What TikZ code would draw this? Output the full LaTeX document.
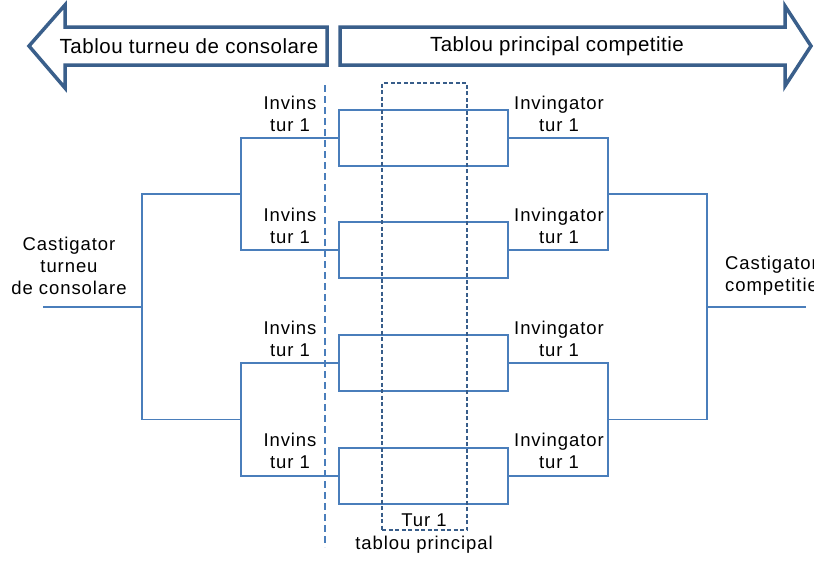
\documentclass[tikz,border=0pt]{standalone}
\usepackage{fontspec}
\setmainfont{Liberation Sans}
\newfontfamily\lblfont[LetterSpace=5]{Liberation Sans}
\newfontfamily\hdrfont[LetterSpace=2.5]{Liberation Sans}
\definecolor{lineblue}{HTML}{4A7EBB}
\definecolor{arrowblue}{HTML}{3A5F8B}
\definecolor{dashblue}{HTML}{385D8A}
\begin{document}
\begin{tikzpicture}[x=1pt,y=-1pt,
  conn/.style={draw=lineblue, line width=1.5pt},
  box/.style={draw=lineblue, line width=1.5pt, minimum width=169pt, minimum height=56pt, inner sep=0pt},
  lbl/.style={font=\lblfont\fontsize{18.5}{22}\selectfont, align=center, inner sep=0pt},
  hdr/.style={font=\hdrfont\fontsize{20.5}{24}\selectfont, inner sep=0pt},
  bigarrow/.style={draw=arrowblue, line width=3.5pt, fill=white, line join=miter},
]
\clip (0,0) rectangle (814,560);
\fill[white] (0,0) rectangle (814,560);

% header arrows
\draw[bigarrow] (29,46) -- (65,5) -- (65,27) -- (327,27) -- (327,65) -- (65,65) -- (65,88) -- cycle;
\draw[bigarrow] (340,27) -- (785,27) -- (785,6) -- (811,46) -- (785,86) -- (785,65) -- (340,65) -- cycle;
\node[hdr] (hcons) at (189,46) {Tablou turneu de consolare};
\node[hdr] (hmain) at (557,46) {Tablou principal competitie};

% boxes
\node[box] (b1) at (423.5,138) {};
\node[box] (b2) at (423.5,250) {};
\node[box] (b3) at (423.5,363) {};
\node[box] (b4) at (423.5,476) {};

% dashed round-1 frame
\node[draw=dashblue, line width=1.2pt, dash pattern=on 4pt off 2.5pt, minimum width=85pt, minimum height=447pt, inner sep=0pt] (tur) at (424.5,306.5) {};
\node[lbl] (turlbl) at (424,520) {Tur 1};
\node[lbl] (turlbl2) at (424,545) {tablou principal};

% dashed divider
\coordinate (d1) at (325,85);
\coordinate (d2) at (325,547);
\draw[draw=lineblue, line width=1.5pt, dash pattern=on 7pt off 4pt] (d1) -- (d2);

% left bracket (consolation)
\coordinate (l1) at (241,194);
\coordinate (l2) at (241,419.5);
\coordinate (lA) at (142,307);
\coordinate (lE) at (43,307);
\draw[conn] (b1.west) -| (l1) |- (b2.west);
\draw[conn] (b3.west) -| (l2) |- (b4.west);
\draw[conn] (l1) -| (lA) |- (l2);
\draw[conn] (lA) -- (lE);

% right bracket (main)
\coordinate (r1) at (608,194);
\coordinate (r2) at (608,419.5);
\coordinate (rA) at (707,307);
\coordinate (rE) at (806,307);
\draw[conn] (b1.east) -| (r1) |- (b2.east);
\draw[conn] (b3.east) -| (r2) |- (b4.east);
\draw[conn] (r1) -| (rA) |- (r2);
\draw[conn] (rA) -- (rE);

% labels
\node[lbl] (los1) at (290,113.5) {Invins\\tur 1};
\node[lbl] (los2) at (290,226) {Invins\\tur 1};
\node[lbl] (los3) at (290,339) {Invins\\tur 1};
\node[lbl] (los4) at (290,451) {Invins\\tur 1};
\node[lbl] (win1) at (559,113.5) {Invingator\\tur 1};
\node[lbl] (win2) at (559,226) {Invingator\\tur 1};
\node[lbl] (win3) at (559,339) {Invingator\\tur 1};
\node[lbl] (win4) at (559,451) {Invingator\\tur 1};
\node[lbl] (cons) at (69,266) {Castigator\\turneu\\de consolare};
\node[lbl, align=left, anchor=west] (champ) at (725,276) {Castigator\\competitie};
\end{tikzpicture}
\end{document}
